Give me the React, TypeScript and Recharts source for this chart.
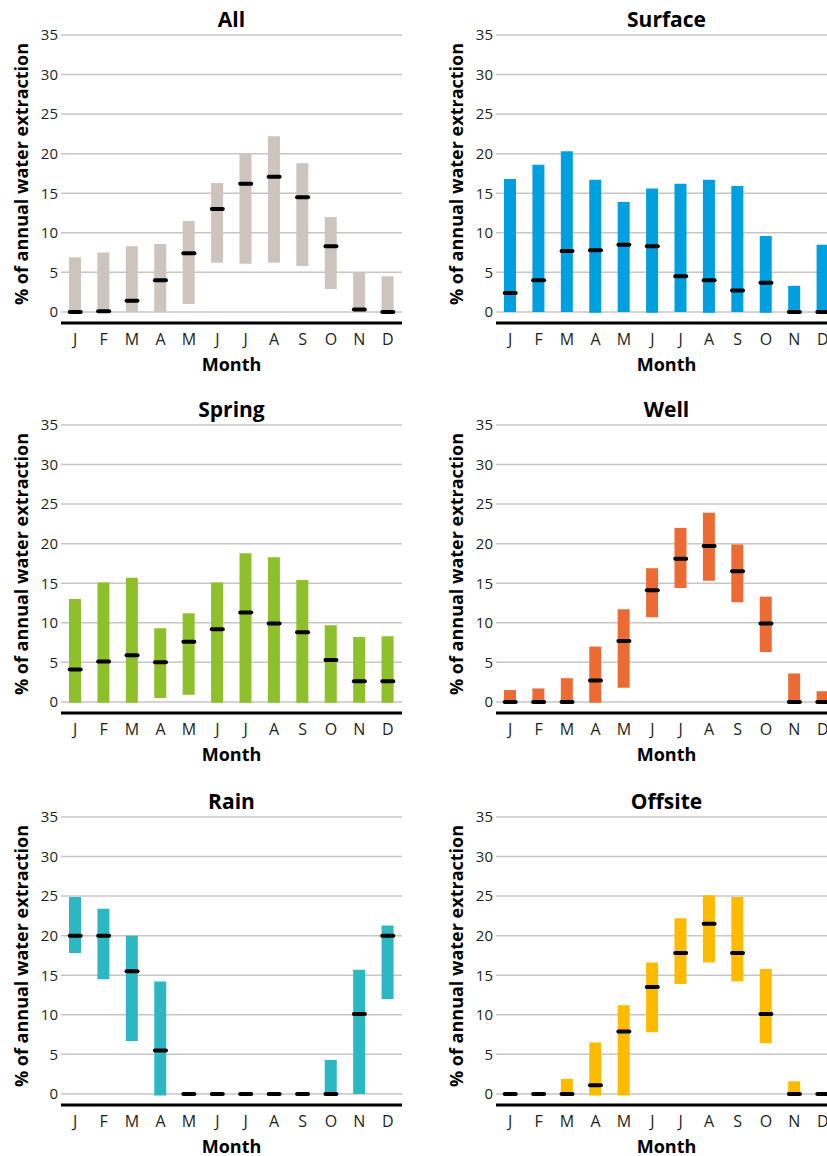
import React from "react";
import { ComposedChart, Bar, Scatter, XAxis, YAxis, CartesianGrid } from "recharts";

const MONTHS = ["Jan", "Feb", "Mar", "Apr", "May", "Jun", "Jul", "Aug", "Sep", "Oct", "Nov", "Dec"];
const MONTH_TICKS = ["J", "F", "M", "A", "M", "J", "J", "A", "S", "O", "N", "D"];
const Y_TICKS = [0, 5, 10, 15, 20, 25, 30, 35];

const ALL_HIGH = [6.9, 7.5, 8.3, 8.6, 11.5, 16.3, 20.0, 22.2, 18.8, 12.0, 5.0, 4.5];
const ALL_LOW = [0, 0, 0, 0, 1.0, 6.2, 6.1, 6.2, 5.8, 2.9, 0, 0];
const ALL_MED = [0, 0.1, 1.4, 4.0, 7.4, 13.0, 16.2, 17.1, 14.5, 8.3, 0.3, 0];

const SURFACE_HIGH = [16.8, 18.6, 20.3, 16.7, 13.9, 15.6, 16.2, 16.7, 15.9, 9.6, 3.3, 8.5];
const SURFACE_LOW = [0, 0, 0, -0.1, 0, -0.1, 0, -0.1, 0, -0.1, 0, 0];
const SURFACE_MED = [2.4, 4.0, 7.7, 7.8, 8.5, 8.3, 4.5, 4.0, 2.7, 3.7, 0, 0];

const SPRING_HIGH = [13.0, 15.1, 15.7, 9.3, 11.2, 15.1, 18.8, 18.3, 15.4, 9.7, 8.2, 8.3];
const SPRING_LOW = [-0.1, -0.1, -0.1, 0.5, 0.9, -0.1, -0.1, -0.1, -0.1, -0.1, -0.1, -0.1];
const SPRING_MED = [4.1, 5.1, 5.9, 5.0, 7.6, 9.2, 11.3, 9.9, 8.8, 5.3, 2.6, 2.6];

const WELL_HIGH = [1.5, 1.7, 3.0, 7.0, 11.7, 16.9, 22.0, 23.9, 19.9, 13.3, 3.6, 1.35];
const WELL_LOW = [0, 0, 0, -0.1, 1.8, 10.7, 14.4, 15.3, 12.6, 6.3, 0, 0];
const WELL_MED = [0, 0, 0, 2.7, 7.7, 14.1, 18.1, 19.7, 16.5, 9.9, 0, 0];

const RAIN_HIGH = [24.9, 23.4, 20.0, 14.2, 0, 0, 0, 0, 0, 4.3, 15.7, 21.3];
const RAIN_LOW = [17.8, 14.5, 6.7, -0.2, 0, 0, 0, 0, 0, 0, 0, 12.0];
const RAIN_MED = [20.0, 20.0, 15.5, 5.5, 0, 0, 0, 0, 0, 0, 10.1, 20.0];

const OFFSITE_HIGH = [0, 0, 1.9, 6.5, 11.2, 16.6, 22.2, 25.1, 24.9, 15.8, 1.6, 0];
const OFFSITE_LOW = [0, 0, 0, -0.2, -0.2, 7.8, 13.9, 16.6, 14.2, 6.4, 0, 0];
const OFFSITE_MED = [0, 0, 0, 1.1, 7.9, 13.5, 17.8, 21.5, 17.8, 10.1, 0, 0];

const FONT = "'Open Sans', 'DejaVu Sans', sans-serif";

const PANELS = [
  { title: "All", color: "#ccc4bd", low: ALL_LOW, high: ALL_HIGH, med: ALL_MED, left: 0, top: 0 },
  { title: "Surface", color: "#009fdf", low: SURFACE_LOW, high: SURFACE_HIGH, med: SURFACE_MED, left: 435, top: 0 },
  { title: "Spring", color: "#8dc02a", low: SPRING_LOW, high: SPRING_HIGH, med: SPRING_MED, left: 0, top: 390 },
  { title: "Well", color: "#ec6a34", low: WELL_LOW, high: WELL_HIGH, med: WELL_MED, left: 435, top: 390 },
  { title: "Rain", color: "#2cb8c2", low: RAIN_LOW, high: RAIN_HIGH, med: RAIN_MED, left: 0, top: 782 },
  { title: "Offsite", color: "#fdbb00", low: OFFSITE_LOW, high: OFFSITE_HIGH, med: OFFSITE_MED, left: 435, top: 782 },
];

// short black dash marking the median
const MedianDash = (props: any) => {
  const { cx, cy } = props;
  if (cx == null || cy == null) return null;
  return <rect x={cx - 7.5} y={cy - 2} width={15} height={4} rx={2} fill="#000" />;
};

function Panel({ p }: { p: (typeof PANELS)[number] }) {
  const data = MONTHS.map((m, i) => ({ m, range: [p.low[i], p.high[i]], median: p.med[i] }));
  return (
    <div style={{ position: "absolute", left: p.left, top: p.top, width: 413, height: 390 }}>
      <div
        style={{
          position: "absolute", left: 61, top: 5, width: 341, textAlign: "center",
          fontSize: 21, fontWeight: 700, color: "#000",
        }}
      >
        {p.title}
      </div>
      <div
        style={{
          position: "absolute", left: 21 - 150, top: 173.5 - 12, width: 300, height: 24,
          lineHeight: "24px", textAlign: "center", fontSize: 18, fontWeight: 700,
          transform: "rotate(-90deg)", whiteSpace: "nowrap", color: "#000",
        }}
      >
        % of annual water extraction
      </div>
      <ComposedChart width={413} height={390} data={data} margin={{ top: 35, right: 11, left: 0, bottom: 0 }}>
        <CartesianGrid horizontal vertical={false} stroke="#c6c6c6" strokeWidth={1.5} />
        <XAxis
          dataKey="m"
          height={67}
          tickFormatter={(v, i) => MONTH_TICKS[i]}
          tick={{ fill: "#231f20", fontSize: 16, fontFamily: FONT }}
          tickLine={false}
          tickSize={0}
          tickMargin={11}
          interval={0}
          axisLine={{ stroke: "#000", strokeWidth: 3 }}
          label={{ value: "Month", position: "insideBottom", offset: 19, fill: "#000", fontSize: 18, fontWeight: 700, fontFamily: FONT }}
        />
        <YAxis
          width={61}
          domain={[-1.4, 35]}
          ticks={Y_TICKS}
          allowDataOverflow
          axisLine={false}
          tickLine={false}
          tickSize={0}
          tickMargin={3}
          tick={{ fill: "#231f20", fontSize: 15, fontFamily: FONT }}
        />
        <Bar dataKey="range" fill={p.color} barSize={12} isAnimationActive={false} />
        <Scatter dataKey="median" shape={<MedianDash />} isAnimationActive={false} />
      </ComposedChart>
    </div>
  );
}

export default function App() {
  return (
    <div
      style={{
        position: "absolute", left: 0, top: 0, width: 827, height: 1156,
        overflow: "hidden", background: "#fff", fontFamily: FONT,
      }}
    >
      {PANELS.map((p) => (
        <Panel key={p.title} p={p} />
      ))}
    </div>
  );
}
